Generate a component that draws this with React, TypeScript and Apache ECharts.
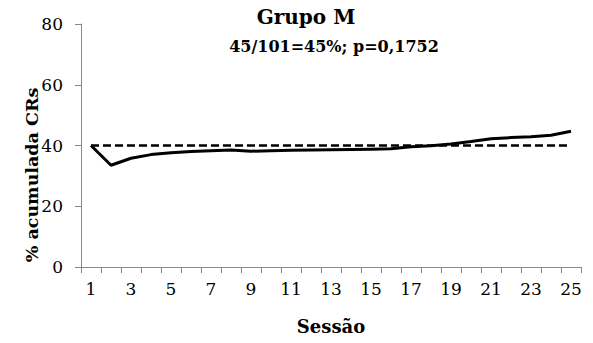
import React, { useEffect, useRef } from "react";
import * as echarts from "echarts";

const sessions = Array.from({ length: 25 }, (_, i) => String(i + 1));
const cumulative = [40, 33.5, 35.8, 37.0, 37.6, 38.0, 38.3, 38.5, 38.1, 38.3, 38.4, 38.5, 38.6, 38.7, 38.8, 38.9, 39.6, 39.9, 40.5, 41.3, 42.2, 42.6, 42.9, 43.4, 44.7];
const chance = [40, 40, 40, 40, 40, 40, 40, 40, 40, 40, 40, 40, 40, 40, 40, 40, 40, 40, 40, 40, 40, 40, 40, 40, 40];
const yTicks = { min: 0, max: 80, interval: 20 };
const yName = "% acumulada CRs";

const font = "DejaVu Serif";

export default function App() {
  const ref = useRef<HTMLDivElement>(null);
  useEffect(() => {
    const chart = echarts.init(ref.current!, null, { renderer: "svg" });
    chart.setOption({
      animation: false,
      textStyle: { fontFamily: font },
      title: [
        {
          text: "Grupo M",
          left: 301,
          top: 2,
          textAlign: "center",
          textStyle: { fontFamily: font, fontWeight: "bold", fontSize: 20, color: "#000" },
        },
        {
          text: "45/101=45%; p=0,1752",
          left: 329,
          top: 33,
          textAlign: "center",
          textStyle: { fontFamily: font, fontWeight: "bold", fontSize: 16, color: "#000" },
        },
      ],
      graphic: [
        {
          type: "text",
          x: 32,
          y: 175,
          rotation: Math.PI / 2,
          style: {
            text: yName,
            align: "center",
            verticalAlign: "middle",
            fontFamily: font,
            fontWeight: "bold",
            fontSize: 17.5,
            fill: "#000",
          },
        },
      ],
      grid: { left: 81, top: 24, right: 12, bottom: 76, containLabel: false },
      xAxis: {
        type: "category",
        data: sessions,
        boundaryGap: true,
        name: "Sessão",
        nameLocation: "middle",
        nameGap: 50,
        nameMoveOverlap: false,
        nameTextStyle: { fontFamily: font, fontWeight: "bold", fontSize: 18, color: "#000" },
        axisLine: { lineStyle: { color: "#898989", width: 1 } },
        axisTick: { show: true, interval: 0, length: 6, lineStyle: { color: "#898989" } },
        axisLabel: { interval: 1, fontFamily: font, fontSize: 17, color: "#000", margin: 13 },
        splitLine: { show: false },
      },
      yAxis: {
        type: "value",
        min: yTicks.min,
        max: yTicks.max,
        interval: yTicks.interval,
        axisLine: { show: true, lineStyle: { color: "#898989", width: 1 } },
        axisTick: { show: true, length: 6, lineStyle: { color: "#898989" } },
        axisLabel: { fontFamily: font, fontSize: 17, color: "#000", margin: 18 },
        splitLine: { show: false },
      },
      series: [
        {
          type: "line",
          data: chance,
          symbol: "none",
          lineStyle: { color: "#000", width: 2.5, type: [8, 4] },
          z: 2,
        },
        {
          type: "line",
          data: cumulative,
          symbol: "none",
          lineStyle: { color: "#000", width: 3 },
          z: 3,
        },
      ],
    });
    return () => chart.dispose();
  }, []);
  return <div ref={ref} style={{ width: 593, height: 343, position: "absolute", left: 0, top: 0 }} />;
}
